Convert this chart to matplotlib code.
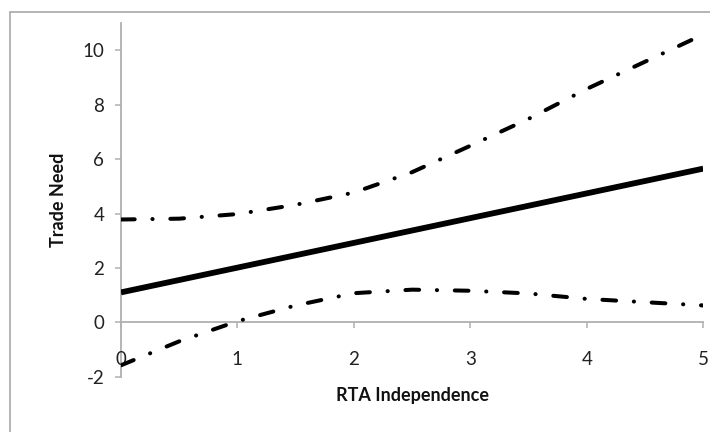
import numpy as np
import matplotlib.pyplot as plt
from matplotlib.patches import Rectangle

plt.rcParams['font.family'] = ['Lato', 'DejaVu Sans']

# data
rta = [0, 0.5, 1, 1.5, 2, 2.5, 3, 3.5, 4, 4.5, 5]
need_fit = [1.10, 1.555, 2.01, 2.465, 2.92, 3.375, 3.83, 4.285, 4.74, 5.195, 5.65]
need_upper = [3.78, 3.81, 3.98, 4.32, 4.77, 5.52, 6.49, 7.48, 8.58, 9.58, 10.58]
need_lower = [-1.58, -0.70, 0.04, 0.62, 1.07, 1.20, 1.16, 1.06, 0.86, 0.74, 0.62]

x_ticks = [0, 1, 2, 3, 4, 5]
y_ticks = [-2, 0, 2, 4, 6, 8, 10]

fig = plt.figure(figsize=(7.1, 4.32), dpi=100)
ax = fig.add_axes([0.1704, 0.128, 0.820, 0.8185])

dashdot = (0, (3.4, 4.4, 0.05, 4.4))
ax.plot(rta, need_upper, color='black', lw=2.9, linestyle=dashdot,
        dash_capstyle='round', solid_capstyle='round')
ax.plot(rta, need_lower, color='black', lw=2.9, linestyle=dashdot,
        dash_capstyle='round', solid_capstyle='round')
ax.plot(rta, need_fit, color='black', lw=4.2, solid_capstyle='butt')

ax.set_xlim(0, 5)
ax.set_ylim(-2, 11)
ax.set_xticks(x_ticks)
ax.set_yticks(y_ticks)
ax.set_xticklabels([str(v) for v in x_ticks])
ax.set_yticklabels([str(v) for v in y_ticks])

# axes cross at the origin, Excel style
for side in ['top', 'right']:
    ax.spines[side].set_visible(False)
ax.spines['left'].set_position(('data', 0))
ax.spines['bottom'].set_position(('data', 0))
for side in ['left', 'bottom']:
    ax.spines[side].set_color('#b0b0b0')
    ax.spines[side].set_linewidth(1.3)
    ax.spines[side].set_zorder(0)

ax.tick_params(axis='y', direction='out', length=4, width=1.1, color='#b0b0b0',
               pad=8, labelsize=13.5, labelcolor='#222222')
ax.tick_params(axis='x', direction='out', length=4.5, width=1.1, color='#b0b0b0',
               pad=16, labelsize=13.5, labelcolor='#222222')

fig.text(412 / 710, 1 - 395 / 432, 'RTA Independence', ha='center', va='center',
         fontsize=13, fontweight='bold', color='#111111')
fig.text(58 / 710, 1 - 200 / 432, 'Trade Need', ha='center', va='center',
         rotation=90, fontsize=13, fontweight='bold', color='#111111')

# chart area border
fig.patches.append(Rectangle((10, -20), 750, 432 - 12 + 20, transform=None,
                             fill=False, edgecolor='#a8a8a8', lw=1.2))

fig.savefig('out.png', dpi=100)
